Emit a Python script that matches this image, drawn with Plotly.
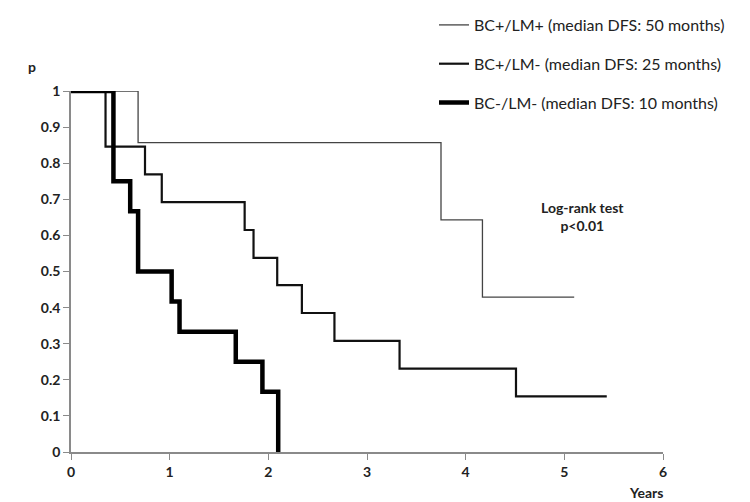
import plotly.graph_objects as go

# Kaplan-Meier step data (years, survival probability)
t_pos_pos = [0, 0.68, 3.75, 4.17, 5.10]
s_pos_pos = [1.0, 0.857, 0.643, 0.429, 0.429]

t_pos_neg = [0, 0.35, 0.75, 0.92, 1.76, 1.85, 2.09, 2.34, 2.67, 3.33, 4.51, 5.43]
s_pos_neg = [1.0, 0.846, 0.769, 0.692, 0.615, 0.538, 0.462, 0.385, 0.308, 0.231, 0.154, 0.154]

t_neg_neg = [0, 0.43, 0.60, 0.68, 1.02, 1.10, 1.67, 1.94, 2.10]
s_neg_neg = [1.0, 0.75, 0.667, 0.5, 0.417, 0.333, 0.25, 0.167, 0.0]

names = ["BC+/LM+ (median DFS: 50 months)",
         "BC+/LM- (median DFS: 25 months)",
         "BC-/LM- (median DFS: 10 months)"]

x_ticks = [0, 1, 2, 3, 4, 5, 6]
y_ticks = [0, 0.1, 0.2, 0.3, 0.4, 0.5, 0.6, 0.7, 0.8, 0.9, 1]
y_ticktext = ["0", "0.1", "0.2", "0.3", "0.4", "0.5", "0.6", "0.7", "0.8", "0.9", "1"]

FONT = "Lato"
TXT = "#222222"

W, H = 750, 502
l, r, t, b = 63, 95, 83, 58
pw, ph = W - l - r, H - t - b


def px(x):
    return (x - l) / pw


def py(y):
    return (H - b - y) / ph


fig = go.Figure()
fig.add_trace(go.Scatter(x=t_pos_pos, y=s_pos_pos, mode="lines", line_shape="hv",
                         line=dict(color="#444444", width=1.3), name=names[0], legendgroup="a"))
fig.add_trace(go.Scatter(x=t_pos_neg, y=s_pos_neg, mode="lines", line_shape="hv",
                         line=dict(color="#111111", width=2.2), name=names[1], legendgroup="b"))
fig.add_trace(go.Scatter(x=t_neg_neg, y=s_neg_neg, mode="lines", line_shape="hv",
                         line=dict(color="#000000", width=4.5), name=names[2], legendgroup="c"))

fig.update_layout(
    width=W, height=H,
    margin=dict(l=l, r=r, t=t, b=b, autoexpand=False),
    plot_bgcolor="white", paper_bgcolor="white",
    font=dict(family=FONT, color=TXT),
    legend=dict(x=426 / W, y=1.0, xref="container", yref="container",
                xanchor="left", yanchor="top",
                font=dict(family=FONT, size=16, color=TXT),
                tracegroupgap=15, itemwidth=30, bgcolor="rgba(0,0,0,0)"),
    showlegend=True,
)

fig.add_annotation(text="<b>p</b>", x=px(18), y=py(48), xref="paper", yref="paper",
                   showarrow=False, font=dict(size=14, family=FONT, color=TXT))
fig.add_annotation(text="<b>Log-rank test<br>p<0.01</b>", x=px(618), y=py(189), xref="paper", yref="paper",
                   showarrow=False, font=dict(size=14, family=FONT, color=TXT), align="center")
fig.add_annotation(text="<b>Years</b>", x=px(657), y=py(495), xref="paper", yref="paper",
                   showarrow=False, font=dict(size=14, family=FONT, color=TXT))

fig.update_xaxes(range=[0, 6], tickvals=x_ticks, ticks="outside", ticklen=6, tickcolor="#8a8a8a",
                 showline=True, linecolor="#8a8a8a", linewidth=1.5, showgrid=False, zeroline=False,
                 tickfont=dict(size=14, family=FONT, color=TXT, weight="bold"))
fig.update_yaxes(range=[0, 1], tickvals=y_ticks, ticktext=y_ticktext, ticks="outside", ticklen=6,
                 tickcolor="#8a8a8a", showline=True, linecolor="#8a8a8a", linewidth=1.5,
                 showgrid=False, zeroline=False,
                 tickfont=dict(size=14, family=FONT, color=TXT, weight="bold"))

fig.write_html("out.html")
